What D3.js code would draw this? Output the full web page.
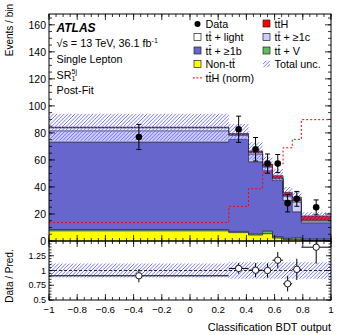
<!DOCTYPE html>
<html>
<head>
<meta charset="utf-8">
<script src="https://cdn.jsdelivr.net/npm/d3@7"></script>
<style>
  body { margin: 0; background: #fff; }
  svg text { font-family: "Liberation Sans", Arial, sans-serif; fill: #000; }
</style>
</head>
<body>
<svg id="chart" width="349" height="335"></svg>
<script>
// bin edges of the BDT output
const binEdges = [-1, 0.275, 0.415, 0.515, 0.585, 0.66, 0.725, 0.79, 1];

// stacked post-fit yields, bottom to top
const nonTT   = [7.5, 6.2, 4.4, 5.4, 2.2, 1.0, 1.2, 0.4];
const ttV     = [1.0, 0.9, 0.9, 1.9, 1.0, 1.0, 1.2, 1.0];
const tt1b    = [64.7, 68.1, 53.3, 44.7, 41.5, 28.0, 19.1, 12.0];
const tt1c    = [8.3, 2.8, 5.7, 2.6, 1.3, 3.0, 7.2, 1.4];
const ttLight = [2.2, 0.7, 1.0, 0.6, 0.4, 0.7, 1.0, 0.6];
const ttH     = [0.5, 0.9, 1.3, 1.7, 1.9, 2.3, 2.7, 3.1];
const totUnc  = [10, 7, 6.5, 5.5, 5, 4, 4, 2.8];

const ttHnorm = [13.7, 25.6, 38.7, 50.5, 57, 69, 75.2, 89.8];

const data    = [77, 82.7, 67.9, 57.3, 57.3, 28, 31.2, 24.9];
const dataErr = [9.3, 9.7, 8.7, 7.1, 6.7, 6.5, 5.5, 5.5];

const ratio    = [0.91, 1.035, 1.005, 1.0, 1.175, 0.775, 1.02, 1.395];
const ratioErr = [0.11, 0.09, 0.12, 0.12, 0.14, 0.13, 0.18, 0.28];
const ratioUnc = [0.12, 0.14, 0.14, 0.14, 0.14, 0.14, 0.14, 0.14];

const mainTicks  = [0, 20, 40, 60, 80, 100, 120, 140, 160];
const ratioTicks = [0.5, 0.75, 1, 1.25];
const xTicks     = [-1, -0.8, -0.6, -0.4, -0.2, 0, 0.2, 0.4, 0.6, 0.8, 1];

const keys = ["nonTT", "ttV", "tt1b", "tt1c", "ttLight", "ttH"];
const colors = {
  nonTT: "#ffff00", ttV: "#5fbf5f", tt1b: "#6666cc",
  tt1c: "#ccccff", ttLight: "#ffffff", ttH: "#ff0000"
};
const hatchColor = "#6666ff";

const svg = d3.select("#chart");
const L = 49, R = 331, T = 14, M = 241, B = 300;

const x = d3.scaleLinear().domain([-1, 1]).range([L, R]);
const y = d3.scaleLinear().domain([0, 168]).range([M, T]);
const yr = d3.scaleLinear().domain([0.5, 1.5]).range([B, M]);

const defs = svg.append("defs");
defs.append("clipPath").attr("id", "clipMain").append("rect")
  .attr("x", L).attr("y", T).attr("width", R - L).attr("height", M - T);
defs.append("clipPath").attr("id", "clipRatio").append("rect")
  .attr("x", L).attr("y", M).attr("width", R - L).attr("height", B - M);

const bins = d3.range(binEdges.length - 1).map(i => ({
  i: i, lo: binEdges[i], hi: binEdges[i + 1], mid: (binEdges[i] + binEdges[i + 1]) / 2
}));
const rows = bins.map(b => {
  let r = {};
  r.nonTT = nonTT[b.i]; r.ttV = ttV[b.i]; r.tt1b = tt1b[b.i];
  r.tt1c = tt1c[b.i]; r.ttLight = ttLight[b.i]; r.ttH = ttH[b.i];
  return r;
});
const stacked = d3.stack().keys(keys)(rows);
const total = rows.map(r => keys.reduce((s, k) => s + r[k], 0));

// diagonal hatch lines clipped to a set of rectangles
function hatch(parent, id, rects, x0, y0, x1, y1) {
  const cp = defs.append("clipPath").attr("id", id);
  rects.forEach(r => cp.append("rect").attr("x", r[0]).attr("y", r[1]).attr("width", r[2]).attr("height", r[3]));
  const g = parent.append("g").attr("clip-path", "url(#" + id + ")");
  const h = y1 - y0;
  for (let s = x0 - h; s < x1; s += 3.6) {
    g.append("line").attr("x1", s).attr("y1", y1).attr("x2", s + h).attr("y2", y0)
      .attr("stroke", hatchColor).attr("stroke-width", 0.9);
  }
}

// step points: each bin value repeated at its low and high edge
function steps(lowVals, highVals) {
  let pts = [];
  bins.forEach(b => {
    pts.push({ x: b.lo, y0: lowVals[b.i], y1: highVals[b.i] });
    pts.push({ x: b.hi, y0: lowVals[b.i], y1: highVals[b.i] });
  });
  return pts;
}
const stepArea = d3.area().x(d => x(d.x)).y0(d => y(d.y0)).y1(d => y(d.y1));
const stepLine = d3.line().x(d => x(d.x)).y(d => y(d.y1));

const gMain = svg.append("g").attr("clip-path", "url(#clipMain)");

for (let layer of stacked) {
  const pts = steps(layer.map(d => d[0]), layer.map(d => d[1]));
  gMain.append("path").attr("d", stepArea(pts)).attr("fill", colors[layer.key]);
}
// outlines of each stacked layer
for (let layer of stacked) {
  const pts = steps(layer.map(d => d[0]), layer.map(d => d[1]));
  gMain.append("path").attr("d", stepLine(pts))
    .attr("fill", "none").attr("stroke", "#2a2a3a").attr("stroke-width", 0.8);
}

// total uncertainty band
hatch(gMain, "bandMain", bins.map(b => [
  x(b.lo), y(total[b.i] + totUnc[b.i]), x(b.hi) - x(b.lo),
  y(total[b.i] - totUnc[b.i]) - y(total[b.i] + totUnc[b.i])
]), L, T, R, M);

// ttH normalised step line
gMain.append("path").attr("d", stepLine(steps(ttHnorm, ttHnorm)))
  .attr("fill", "none").attr("stroke", "#ff0000").attr("stroke-width", 1)
  .attr("stroke-dasharray", "2,2");

// data points
const gData = gMain.selectAll(null).data(bins).enter().append("g");
gData.append("line")
  .attr("x1", b => x(b.mid)).attr("x2", b => x(b.mid))
  .attr("y1", b => y(data[b.i] - dataErr[b.i])).attr("y2", b => y(data[b.i] + dataErr[b.i]))
  .attr("stroke", "#000").attr("stroke-width", 1);
[-1, 1].forEach(s => {
  gData.append("line")
    .attr("x1", b => x(b.mid) - 2.5).attr("x2", b => x(b.mid) + 2.5)
    .attr("y1", b => y(data[b.i] + s * dataErr[b.i])).attr("y2", b => y(data[b.i] + s * dataErr[b.i]))
    .attr("stroke", "#000").attr("stroke-width", 1);
});
gData.append("circle")
  .attr("cx", b => x(b.mid)).attr("cy", b => y(data[b.i])).attr("r", 3.3).attr("fill", "#000");

// ratio panel
const gRatio = svg.append("g").attr("clip-path", "url(#clipRatio)");
hatch(gRatio, "bandRatio", bins.map(b => [
  x(b.lo), yr(1 + ratioUnc[b.i]), x(b.hi) - x(b.lo),
  yr(1 - ratioUnc[b.i]) - yr(1 + ratioUnc[b.i])
]), L, M, R, B);
gRatio.append("line").attr("x1", L).attr("x2", R).attr("y1", yr(1)).attr("y2", yr(1))
  .attr("stroke", "#000").attr("stroke-width", 0.8).attr("stroke-dasharray", "3,2");
const gRp = gRatio.selectAll(null).data(bins).enter().append("g");
gRp.append("line")
  .attr("x1", b => x(b.lo)).attr("x2", b => x(b.hi))
  .attr("y1", b => yr(ratio[b.i])).attr("y2", b => yr(ratio[b.i]))
  .attr("stroke", "#000").attr("stroke-width", 1);
gRp.append("line")
  .attr("x1", b => x(b.mid)).attr("x2", b => x(b.mid))
  .attr("y1", b => yr(ratio[b.i] - ratioErr[b.i])).attr("y2", b => yr(ratio[b.i] + ratioErr[b.i]))
  .attr("stroke", "#000").attr("stroke-width", 1);
gRp.append("circle")
  .attr("cx", b => x(b.mid)).attr("cy", b => yr(ratio[b.i])).attr("r", 3.2)
  .attr("fill", "#fff").attr("stroke", "#000").attr("stroke-width", 0.9);

// frames
[[T, M], [M, B]].forEach(p => {
  svg.append("rect").attr("x", L).attr("y", p[0]).attr("width", R - L).attr("height", p[1] - p[0])
    .attr("fill", "none").attr("stroke", "#000").attr("stroke-width", 1);
});

// ticks (inward, on all sides)
function tickLines(vals, fn, len) {
  vals.forEach(v => {
    const c = fn(v, len);
    svg.append("line").attr("x1", c[0]).attr("y1", c[1]).attr("x2", c[2]).attr("y2", c[3])
      .attr("stroke", "#000").attr("stroke-width", 0.8);
  });
}
const xMinor = d3.range(-1, 1.0001, 0.05);
[[T, 1], [M, -1], [M, 1], [B, -1]].forEach(p => {
  const yy = p[0], dir = p[1];
  tickLines(xMinor, (v, l) => [x(v), yy, x(v), yy + dir * l], 3);
  tickLines(xTicks, (v, l) => [x(v), yy, x(v), yy + dir * l], 6);
});
const yMinor = d3.range(0, 168, 5);
[[L, 1], [R, -1]].forEach(p => {
  const xx = p[0], dir = p[1];
  tickLines(yMinor, (v, l) => [xx, y(v), xx + dir * l, y(v)], 3);
  tickLines(mainTicks, (v, l) => [xx, y(v), xx + dir * l, y(v)], 6);
  tickLines(d3.range(0.5, 1.5, 0.05), (v, l) => [xx, yr(v), xx + dir * l, yr(v)], 2.5);
  tickLines(ratioTicks, (v, l) => [xx, yr(v), xx + dir * l, yr(v)], 5);
});

// tick labels
svg.selectAll(null).data(mainTicks).enter().append("text")
  .attr("x", L - 3).attr("y", d => y(d) + 3.8).attr("text-anchor", "end")
  .attr("font-size", 10.5).text(d => d);
svg.selectAll(null).data(ratioTicks).enter().append("text")
  .attr("x", L - 3).attr("y", d => yr(d) + 3.2).attr("text-anchor", "end")
  .attr("font-size", 9).text(d => d);
svg.selectAll(null).data(xTicks).enter().append("text")
  .attr("x", d => x(d)).attr("y", 313).attr("text-anchor", "middle")
  .attr("font-size", 9.8).text(d => d3.format("")(d).replace("-", "\u2212"));

// axis titles
svg.append("text").attr("transform", "translate(13,4) rotate(-90)")
  .attr("text-anchor", "end").attr("font-size", 10).text("Events / bin");
svg.append("text").attr("transform", "translate(13,276) rotate(-90)")
  .attr("text-anchor", "middle").attr("font-size", 10).text("Data / Pred.");
svg.append("text").attr("x", R).attr("y", 331).attr("text-anchor", "end")
  .attr("font-size", 11).text("Classification BDT output");

// labels
const tx = 56.5;
svg.append("text").attr("x", tx).attr("y", 32).attr("font-size", 12)
  .attr("font-weight", "bold").attr("font-style", "italic").text("ATLAS");
const s1 = svg.append("text").attr("x", tx).attr("y", 47).attr("font-size", 10.8);
s1.append("tspan").text("\u221As = 13 TeV, 36.1 fb");
s1.append("tspan").attr("dy", -4).attr("font-size", 7).text("-1");
svg.append("text").attr("x", tx).attr("y", 63).attr("font-size", 10.8).text("Single Lepton");
svg.append("text").attr("x", tx).attr("y", 78.5).attr("font-size", 10.8).text("SR");
svg.append("text").attr("x", tx + 15).attr("y", 73.5).attr("font-size", 7).text("5j");
svg.append("text").attr("x", tx + 15).attr("y", 81).attr("font-size", 7).text("1");
svg.append("text").attr("x", tx).attr("y", 94).attr("font-size", 10.8).text("Post-Fit");

// legend; bar = index of the character that gets an overline
const legLeft = [
  { type: "data", label: "Data" },
  { type: "box", key: "ttLight", label: "tt + light", bar: 1 },
  { type: "box", key: "tt1b", label: "tt + \u22651b", bar: 1 },
  { type: "box", key: "nonTT", label: "Non-tt", bar: 5 },
  { type: "dash", label: "ttH (norm)", bar: 1 }
];
const legRight = [
  { type: "box", key: "ttH", label: "ttH", bar: 1 },
  { type: "box", key: "tt1c", label: "tt + \u22651c", bar: 1 },
  { type: "box", key: "ttV", label: "tt + V", bar: 1 },
  { type: "hatch", label: "Total unc." }
];
const gLeg = svg.append("g");
function drawLegend(items, x0) {
  items.forEach((it, i) => {
    const yy = 27.5 + i * 13.5;
    if (it.type === "data") {
      gLeg.append("circle").attr("cx", x0 + 3.5).attr("cy", yy - 3.6).attr("r", 3).attr("fill", "#000");
    } else if (it.type === "box") {
      gLeg.append("rect").attr("x", x0).attr("y", yy - 7.5).attr("width", 7).attr("height", 7)
        .attr("fill", colors[it.key]).attr("stroke", "#222").attr("stroke-width", 0.7);
    } else if (it.type === "hatch") {
      hatch(gLeg, "legHatch", [[x0, yy - 7.5, 7, 7]], x0, yy - 7.5, x0 + 7, yy - 0.5);
    } else {
      gLeg.append("line").attr("x1", x0 - 1).attr("x2", x0 + 9).attr("y1", yy - 3.6).attr("y2", yy - 3.6)
        .attr("stroke", "#ff0000").attr("stroke-width", 1).attr("stroke-dasharray", "2,1.5");
    }
    const t = gLeg.append("text").attr("x", x0 + 11.5).attr("y", yy).attr("font-size", 10.8).text(it.label);
    if (it.bar !== undefined) {
      const ext = t.node().getExtentOfChar(it.bar);
      gLeg.append("line").attr("x1", ext.x + 0.3).attr("x2", ext.x + ext.width - 0.3)
        .attr("y1", yy - 9).attr("y2", yy - 9).attr("stroke", "#000").attr("stroke-width", 0.7);
    }
  });
}
drawLegend(legLeft, 194);
drawLegend(legRight, 263);
</script>
</body>
</html>
